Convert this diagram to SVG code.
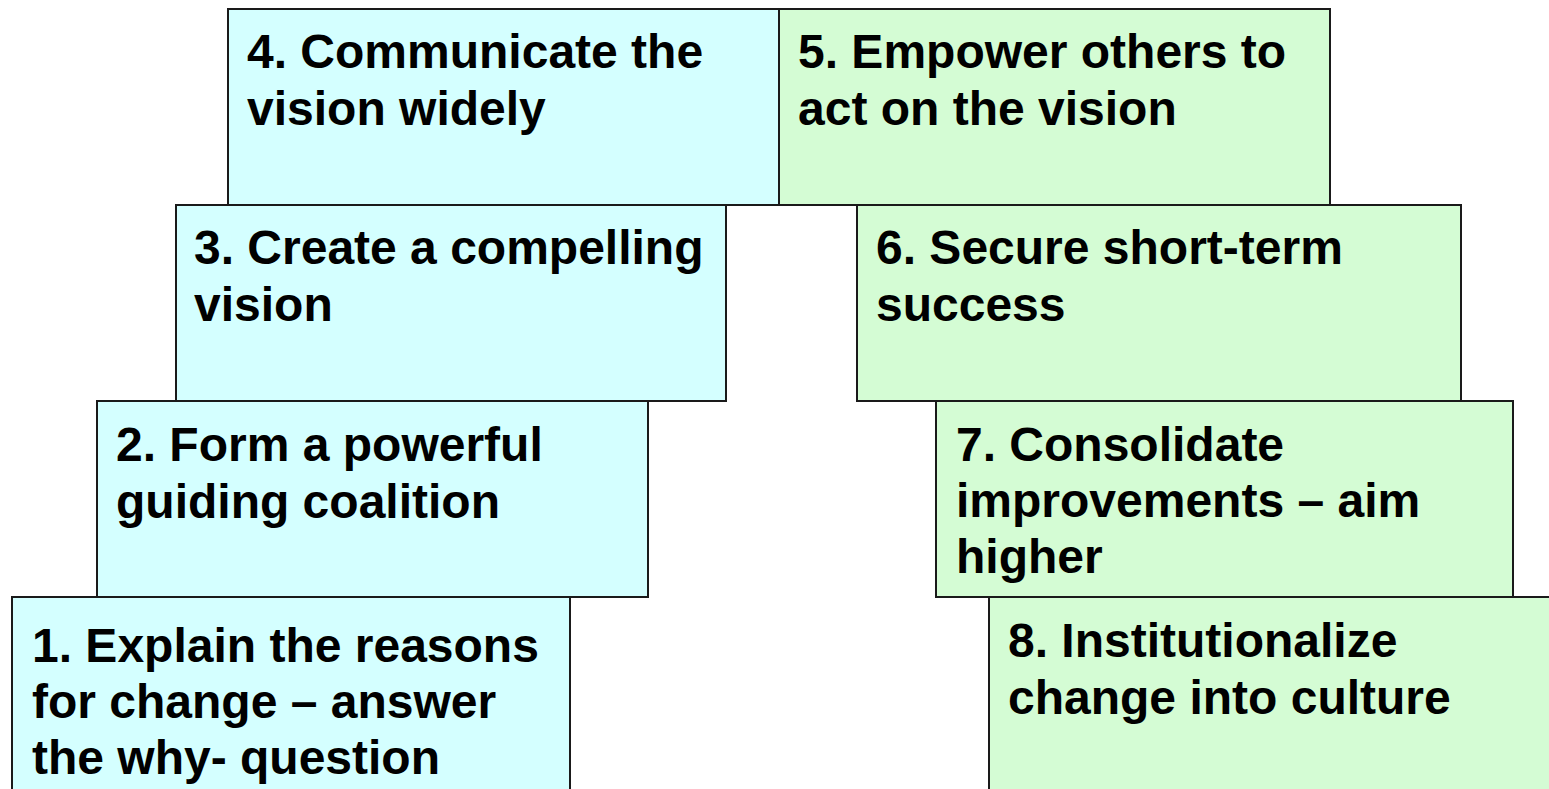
<svg xmlns="http://www.w3.org/2000/svg" width="1549" height="789" viewBox="0 0 1549 789">
  <style>
    .box { stroke: #1a1a1a; stroke-width: 2; }
    .cyan { fill: #D4FFFF; }
    .green { fill: #D4FCD4; }
    .label { font-family: "Liberation Sans", Arial, sans-serif; font-weight: bold; font-size: 48px; fill: #000; }
  </style>
  <rect width="1549" height="789" fill="#ffffff"/>

  <!-- left staircase: steps 1-4 -->
  <g id="step1">
    <rect class="box cyan" x="12" y="597" width="558" height="210"/>
    <text class="label" x="32" y="662">
      <tspan x="32">1. Explain the reasons</tspan>
      <tspan x="32" dy="56">for change – answer</tspan>
      <tspan x="32" dy="56">the why- question</tspan>
    </text>
  </g>
  <g id="step2">
    <rect class="box cyan" x="97" y="401" width="551" height="196"/>
    <text class="label" x="116" y="461">
      <tspan x="116">2. Form a powerful</tspan>
      <tspan x="116" dy="57">guiding coalition</tspan>
    </text>
  </g>
  <g id="step3">
    <rect class="box cyan" x="176" y="205" width="550" height="196"/>
    <text class="label" x="194" y="264">
      <tspan x="194">3. Create a compelling</tspan>
      <tspan x="194" dy="57">vision</tspan>
    </text>
  </g>
  <g id="step4">
    <rect class="box cyan" x="228" y="9" width="551" height="196"/>
    <text class="label" x="247" y="68">
      <tspan x="247">4. Communicate the</tspan>
      <tspan x="247" dy="57">vision widely</tspan>
    </text>
  </g>

  <!-- right staircase: steps 5-8 -->
  <g id="step5">
    <rect class="box green" x="779" y="9" width="551" height="196"/>
    <text class="label" x="798" y="68">
      <tspan x="798">5. Empower others to</tspan>
      <tspan x="798" dy="57">act on the vision</tspan>
    </text>
  </g>
  <g id="step6">
    <rect class="box green" x="857" y="205" width="604" height="196"/>
    <text class="label" x="876" y="264">
      <tspan x="876">6. Secure short-term</tspan>
      <tspan x="876" dy="57">success</tspan>
    </text>
  </g>
  <g id="step7">
    <rect class="box green" x="936" y="401" width="577" height="196"/>
    <text class="label" x="956" y="461">
      <tspan x="956">7. Consolidate</tspan>
      <tspan x="956" dy="56">improvements – aim</tspan>
      <tspan x="956" dy="56">higher</tspan>
    </text>
  </g>
  <g id="step8">
    <rect class="box green" x="989" y="597" width="580" height="210"/>
    <text class="label" x="1008" y="657">
      <tspan x="1008">8. Institutionalize</tspan>
      <tspan x="1008" dy="57">change into culture</tspan>
    </text>
  </g>

  <g id="connectors"/>
</svg>
